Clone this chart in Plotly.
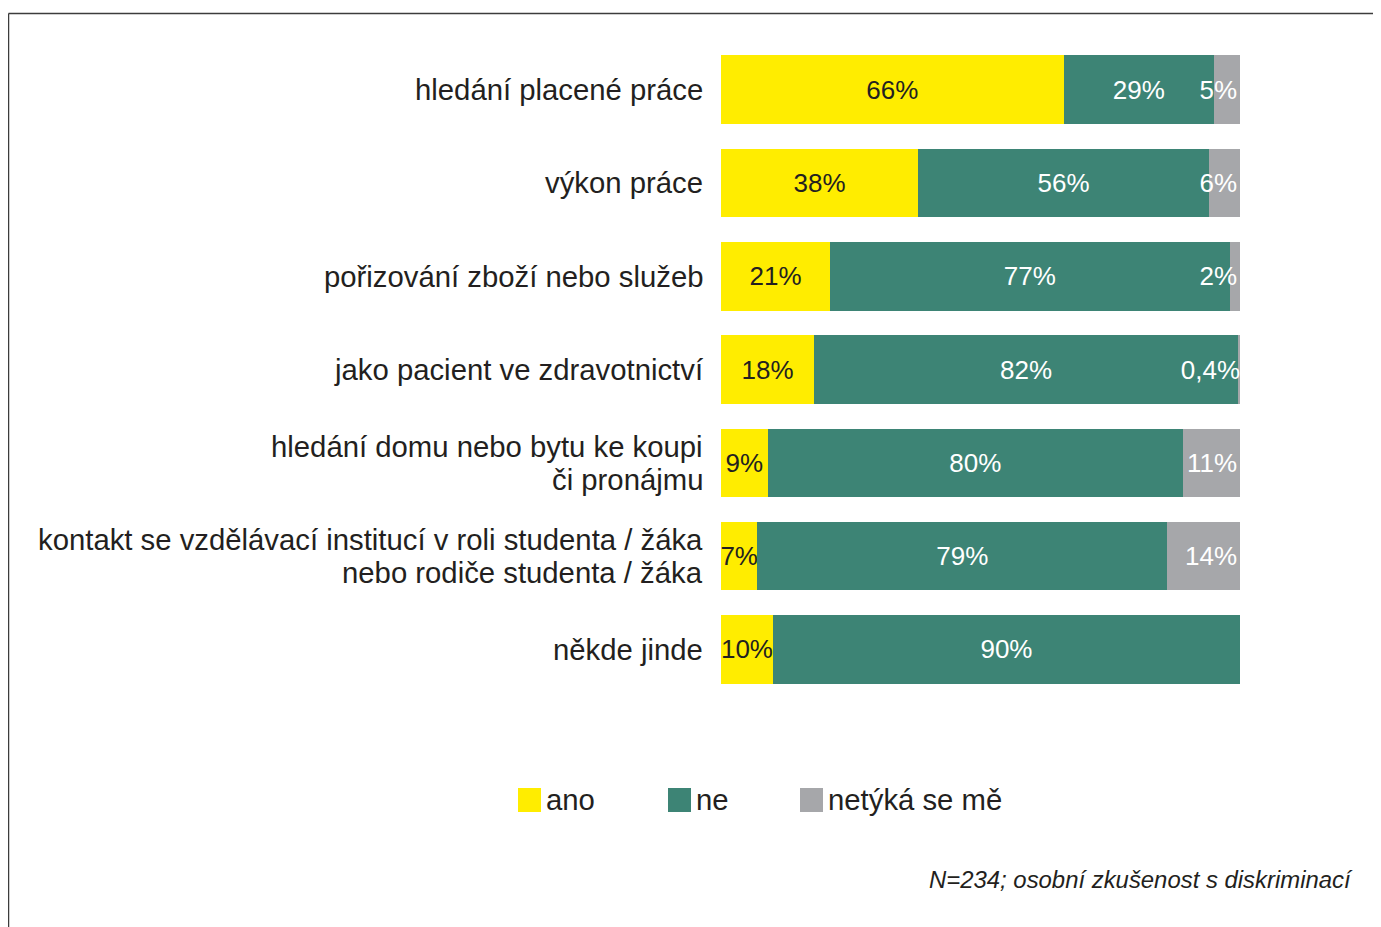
import plotly.graph_objects as go

categories = [
    "hledání placené práce",
    "výkon práce",
    "pořizování zboží nebo služeb",
    "jako pacient ve zdravotnictví",
    "hledání domu nebo bytu ke koupi<br>či pronájmu",
    "kontakt se vzdělávací institucí v roli studenta / žáka<br>nebo rodiče studenta / žáka",
    "někde jinde",
]
ano = [66, 38, 21, 18, 9, 7, 10]
ne = [29, 56, 77, 82, 80, 79, 90]
netyka = [5, 6, 2, 0.4, 11, 14, 0]
ano_text = ["66%", "38%", "21%", "18%", "9%", "7%", "10%"]
ne_text = ["29%", "56%", "77%", "82%", "80%", "79%", "90%"]
netyka_text = ["5%", "6%", "2%", "0,4%", "11%", "14%", ""]

series = [
    ("ano", ano, ano_text, "#FFED00", "#231F20", "middle"),
    ("ne", ne, ne_text, "#3D8475", "white", "middle"),
    ("netýká se mě", netyka, netyka_text, "#A6A7AA", "white", "end"),
]

# the page body has an 8px margin, so the figure starts at (8, 8) of the window
OFF = 8
W, H = 1381 - OFF, 927 - OFF
L, T = 721 - OFF, 43 - OFF
R, B = W - (1240 - OFF), H - (696 - OFF)
PW, PH = W - L - R, H - T - B


def px(x):
    # window pixel x -> paper x
    return (x - OFF - L) / PW


def py(y):
    # window pixel y -> paper y
    return (H - B - (y - OFF)) / PH


FONT = "Liberation Sans, Arial, sans-serif"
DARK = "#231F20"

fig = go.Figure()
for name, vals, txt, color, tcolor, anchor in series:
    fig.add_trace(go.Bar(
        y=categories, x=vals, name=name, orientation="h",
        marker=dict(color=color, line=dict(width=0)),
        text=txt, textposition="inside", insidetextanchor=anchor,
        textangle=0, constraintext="none",
        insidetextfont=dict(family=FONT, size=26, color=tcolor),
        showlegend=False, hoverinfo="skip",
    ))

shapes = []
annotations = []

# category labels as annotations, one per line, to get the tight leading
for cat in categories:
    lines = cat.split("<br>")
    n = len(lines)
    for i, line in enumerate(lines):
        annotations.append(dict(xref="paper", yref="y", x=0, y=cat, xshift=-16,
                                yshift=16.5 * (n - 1) - 33 * i,
                                xanchor="right", yanchor="middle", text=line, showarrow=False,
                                font=dict(family=FONT, size=29.3, color=DARK)))

# legend drawn by hand so the swatches can be as big as in the original
legend_x = [518, 668, 800]
for (name, vals, txt, color, tcolor, anchor), lx in zip(series, legend_x):
    shapes.append(dict(type="rect", xref="paper", yref="paper",
                       x0=px(lx), x1=px(lx + 23), y0=py(812), y1=py(788),
                       fillcolor=color, line=dict(width=0)))
    annotations.append(dict(xref="paper", yref="paper", x=px(lx + 26), y=py(800),
                            xanchor="left", yanchor="middle", text=name, showarrow=False,
                            font=dict(family=FONT, size=29.3, color=DARK)))

annotations.append(dict(xref="paper", yref="paper", x=px(1355), y=py(879),
                        xanchor="right", yanchor="middle", showarrow=False,
                        text="<i>N=234; osobní zkušenost s diskriminací</i>",
                        font=dict(family=FONT, size=23.9, color=DARK)))

# frame (only the top and left edges are visible in the original)
shapes.append(dict(type="line", xref="paper", yref="paper",
                   x0=px(8.5), x1=px(1400), y0=py(13.5), y1=py(13.5),
                   line=dict(color="#3C3C3C", width=1.5)))
shapes.append(dict(type="line", xref="paper", yref="paper",
                   x0=px(8.5), x1=px(8.5), y0=py(13.5), y1=py(940),
                   line=dict(color="#3C3C3C", width=1.5)))

fig.update_layout(
    width=W, height=H,
    margin=dict(l=L, r=R, t=T, b=B, autoexpand=False),
    barmode="stack", barnorm="percent", bargap=0.265,
    plot_bgcolor="white", paper_bgcolor="white",
    font=dict(family=FONT, color=DARK),
    shapes=shapes, annotations=annotations,
    xaxis=dict(range=[0, 100], visible=False, fixedrange=True),
    yaxis=dict(autorange="reversed", showgrid=False, zeroline=False, showline=False,
               ticks="", showticklabels=False),
)

fig.write_html("out.html")
